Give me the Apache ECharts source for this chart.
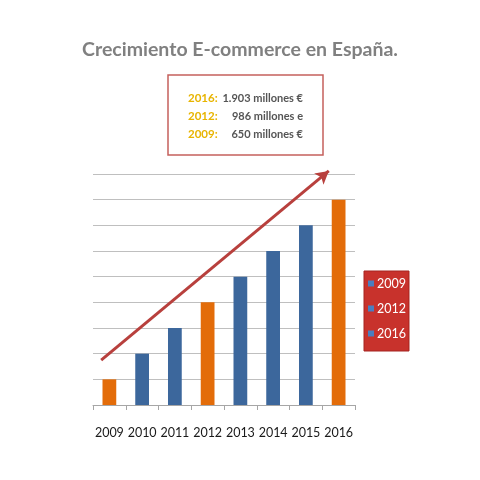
<!DOCTYPE html>
<html>
<head>
<meta charset="utf-8">
<script src="https://cdn.jsdelivr.net/npm/echarts@6/dist/echarts.min.js"></script>
<style>html,body{margin:0;padding:0;background:#fff}#c{width:480px;height:480px}</style>
</head>
<body>
<div id="c"></div>
<script>
var categories = ['2009','2010','2011','2012','2013','2014','2015','2016'];
var values = [1, 2, 3, 4, 5, 6, 7, 8];
var barColors = ['#e36c09','#3c679c','#3c679c','#e36c09','#3c679c','#3c679c','#3c679c','#e36c09'];
var legendNames = ['2009','2012','2016'];
var noteYears = ['2016:','2012:','2009:'];
var noteTexts = ['1.903 millones €','986 millones e','650 millones €'];
var trendStart = [0.25, 1.75];
var trendEnd = [7.2, 9.12];

var FONT = 'Lato, "Open Sans", sans-serif';
var chart = echarts.init(document.getElementById('c'), null, {renderer:'canvas'});

// main grid: 9 units over 231px; overlay grid keeps the same scale but reaches 10 units
var gTop = 174, gBottom = 75, yMax = 9, yMaxOverlay = 10;
var unitPx = (480 - gTop - gBottom) / yMax;
var overlayTop = 480 - gBottom - unitPx * yMaxOverlay;

var series = [{
  type: 'bar',
  data: values.map(function(v,i){ return {value:v, itemStyle:{color:barColors[i]}}; }),
  barWidth: '42%',
  silent: true
}, {
  type: 'line',
  xAxisIndex: 1,
  yAxisIndex: 1,
  data: [],
  symbol: 'none',
  silent: true,
  z: 5,
  markLine: {
    silent: true,
    animation: false,
    symbol: ['none','arrow'],
    symbolSize: [11, 13],
    label: {show:false},
    lineStyle: {color:'#b8403d', width:3, type:'solid', opacity:1},
    data: [[{coord: trendStart}, {coord: trendEnd}]]
  }
}];
legendNames.forEach(function(n){
  series.push({name:n, type:'line', data:[], itemStyle:{color:'#4a7ec0'}, lineStyle:{width:0}});
});

var graphics = [{
  type: 'rect',
  shape: {x:168, y:75, width:155, height:80},
  style: {fill:'#ffffff', stroke:'#c5605c', lineWidth:1.5}
}];
noteYears.forEach(function(y,i){
  var ty = 98 + i*18;
  graphics.push({type:'text', x:188, y:ty,
    style:{text:y, fill:'#e8b400', font:'bold 11.5px ' + FONT, verticalAlign:'middle', align:'left'}});
  graphics.push({type:'text', x:303, y:ty,
    style:{text:noteTexts[i], fill:'#555555', font:'bold 11px ' + FONT, verticalAlign:'middle', align:'right'}});
});

chart.setOption({
  animation: false,
  title: {
    text: 'Crecimiento E-commerce en España.',
    left: 'center', top: 35,
    textStyle: {fontFamily: FONT, fontSize: 19.5, fontWeight: 'bold', color: '#808080'}
  },
  legend: {
    data: legendNames,
    orient: 'vertical',
    left: 364, top: 271,
    backgroundColor: '#c8322c',
    borderColor: '#a52520', borderWidth: 1,
    padding: [6, 3, 11, 4],
    itemWidth: 6, itemHeight: 6, itemGap: 12,
    icon: 'rect',
    textStyle: {color:'#ffffff', fontFamily: FONT, fontSize: 12.5, padding:[0,0,0,-2]}
  },
  grid: [
    {left: 93, right: 125, top: gTop, bottom: gBottom},
    {left: 93, right: 125, top: overlayTop, bottom: gBottom}
  ],
  xAxis: [{
    type: 'category',
    gridIndex: 0,
    data: categories,
    axisLine: {lineStyle:{color:'#a6a6a6'}},
    axisTick: {show:true, length:5, lineStyle:{color:'#a6a6a6'}},
    axisLabel: {interval: 0, color:'#1a1a1a', fontFamily: FONT, fontSize: 12.5, margin: 21}
  }, {
    type: 'value', gridIndex: 1, min: 0, max: 8, show: false
  }],
  yAxis: [{
    type: 'value', gridIndex: 0, min: 0, max: yMax, interval: 1,
    axisLabel: {show:false},
    axisLine: {show:false}, axisTick: {show:false},
    splitLine: {lineStyle:{color:'#bfbfbf', width:1}}
  }, {
    type: 'value', gridIndex: 1, min: 0, max: yMaxOverlay, show: false
  }],
  graphic: graphics,
  series: series
});
</script>
</body>
</html>
